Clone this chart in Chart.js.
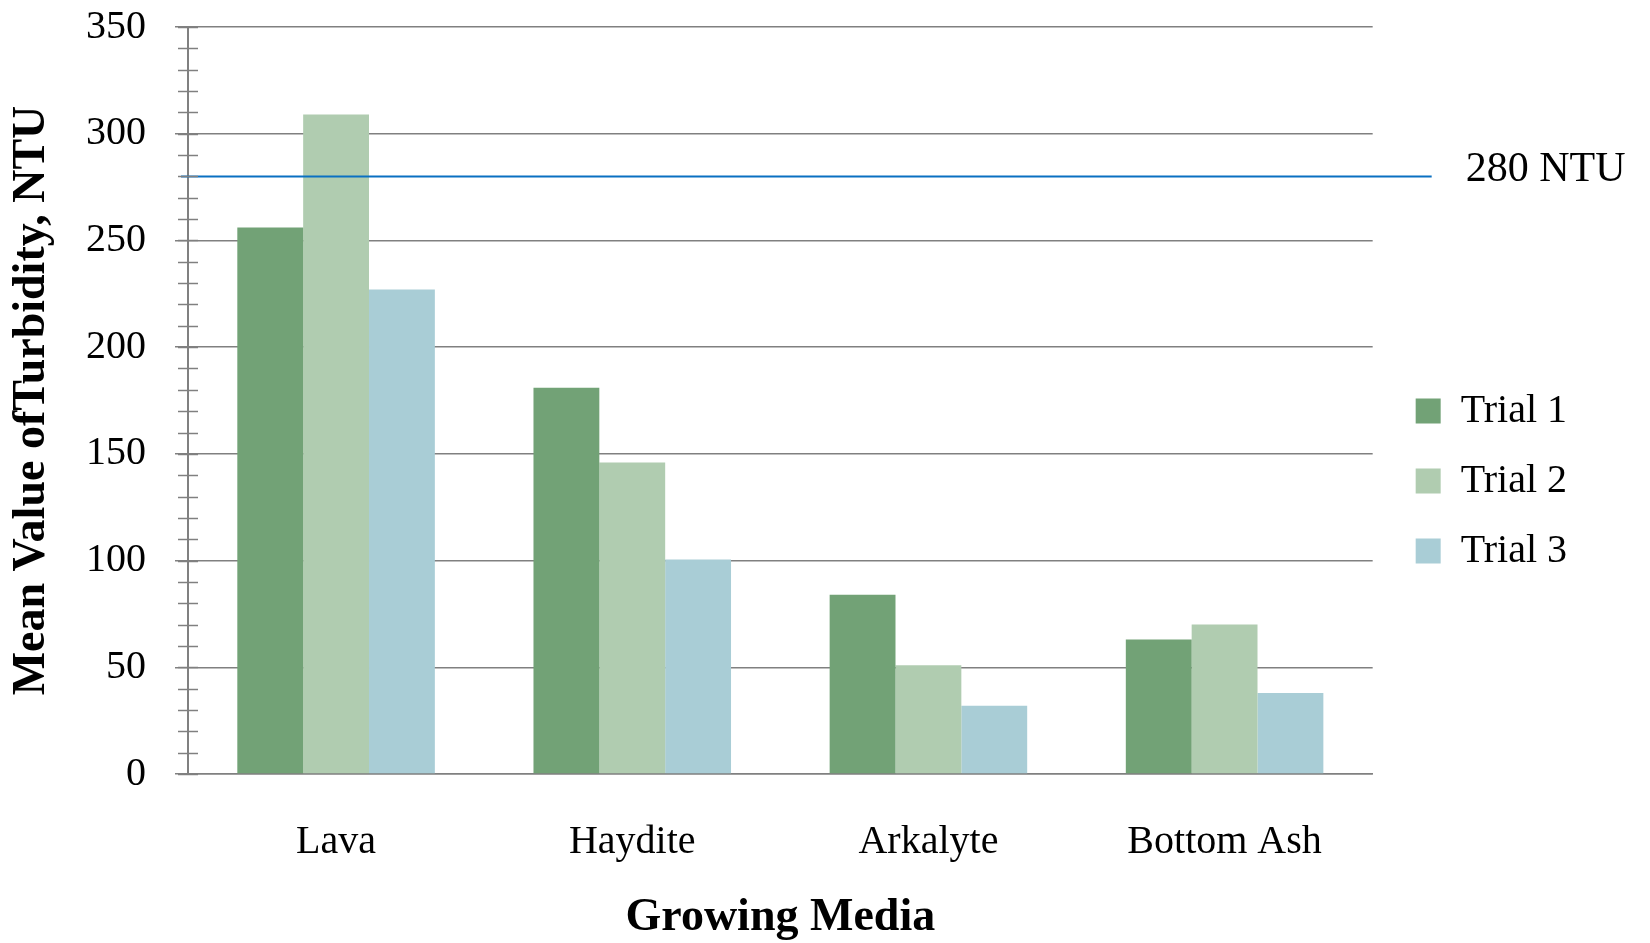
<!DOCTYPE html>
<html>
<head>
<meta charset="utf-8">
<script src="https://cdn.jsdelivr.net/npm/chart.js@4/dist/chart.umd.min.js"></script>
<style>
  html, body { margin: 0; padding: 0; background: #ffffff; }
  #wrap { width: 1650px; height: 943px; }
</style>
</head>
<body>
<div id="wrap"><canvas id="c" width="1650" height="943"></canvas></div>
<script>
// ---- data ----
const categories = ['Lava', 'Haydite', 'Arkalyte', 'Bottom Ash'];
const seriesNames = ['Trial 1', 'Trial 2', 'Trial 3'];
const trial1 = [256, 181, 84, 63];
const trial2 = [309, 146, 51, 70];
const trial3 = [227, 100.5, 32, 38];
const thresholdValues = [280];
const thresholdLabels = ['280 NTU'];
const yMin = 0, yMax = 350, yStep = 50, yMinorStep = 10;
const xTitle = 'Growing Media';
const yTitle = 'Mean Value ofTurbidity, NTU';

// ---- styles ----
const seriesColors = ['#72a276', '#b0ccb0', '#a9cdd6'];
const gridColor = '#808080';
const lineColor = '#0a70c2';
const serif = "'Liberation Serif', 'Times New Roman', serif";

const minorTicksPlugin = {
  id: 'minorTicks',
  afterDraw(chart) {
    const y = chart.scales.y;
    const x0 = chart.chartArea.left;
    const ctx = chart.ctx;
    ctx.save();
    ctx.strokeStyle = gridColor;
    ctx.lineWidth = 1.5;
    for (let v = yMin; v <= yMax + 1e-9; v += yMinorStep) {
      const py = Math.round(y.getPixelForValue(v)) + 0.5;
      ctx.beginPath();
      ctx.moveTo(x0 - 10, py);
      ctx.lineTo(x0 + 10, py);
      ctx.stroke();
    }
    ctx.restore();
  }
};

const thresholdPlugin = {
  id: 'threshold',
  afterDatasetsDraw(chart) {
    const y = chart.scales.y;
    const area = chart.chartArea;
    const ctx = chart.ctx;
    ctx.save();
    thresholdValues.forEach((v, i) => {
      const py = y.getPixelForValue(v);
      ctx.strokeStyle = lineColor;
      ctx.lineWidth = 2;
      ctx.beginPath();
      ctx.moveTo(area.left - 7, py);
      ctx.lineTo(area.right + 59, py);
      ctx.stroke();
      ctx.fillStyle = '#000000';
      ctx.font = '42px ' + serif;
      ctx.textAlign = 'left';
      ctx.textBaseline = 'middle';
      ctx.fillText(thresholdLabels[i], area.right + 93, py - 6);
    });
    ctx.restore();
  }
};

new Chart(document.getElementById('c'), {
  type: 'bar',
  data: {
    labels: categories,
    datasets: [
      { label: seriesNames[0], data: trial1, backgroundColor: seriesColors[0] },
      { label: seriesNames[1], data: trial2, backgroundColor: seriesColors[1] },
      { label: seriesNames[2], data: trial3, backgroundColor: seriesColors[2] }
    ]
  },
  options: {
    responsive: false,
    devicePixelRatio: 1,
    animation: false,
    layout: { padding: { top: 27, right: 73, bottom: 8, left: 0 } },
    datasets: { bar: { barPercentage: 1.0, categoryPercentage: 0.667, borderWidth: 0 } },
    plugins: {
      tooltip: { enabled: false },
      legend: {
        position: 'right',
        align: 'center',
        labels: {
          boxWidth: 25,
          boxHeight: 25,
          padding: 30,
          color: '#000000',
          font: { family: serif, size: 40 }
        }
      }
    },
    scales: {
      x: {
        grid: { display: false, drawTicks: false },
        border: { display: true, color: gridColor, width: 1.5 },
        ticks: { color: '#000000', padding: 44, font: { family: serif, size: 40 } },
        title: {
          display: true, text: xTitle, color: '#000000',
          font: { family: serif, size: 46, weight: 'bold' },
          padding: { top: 0, bottom: -11 }
        },
        afterFit(scale) { scale.height = 161; }
      },
      y: {
        min: yMin, max: yMax,
        grid: { color: gridColor, lineWidth: 1.5, tickLength: 13, tickColor: gridColor, tickWidth: 1.5 },
        border: { display: true, color: gridColor, width: 2 },
        ticks: { stepSize: yStep, color: '#000000', padding: 29, font: { family: serif, size: 40 } },
        title: {
          display: true, text: yTitle, color: '#000000',
          font: { family: serif, size: 46, weight: 'bold' },
          padding: { top: 5, bottom: 0 }
        },
        afterFit(scale) {
          scale.width = 188;
          scale.paddingTop = 0;
          scale.paddingBottom = 0;
        }
      },
      yR: {
        position: 'right',
        display: true,
        grid: { display: false, drawTicks: false },
        border: { display: false },
        ticks: { display: false },
        afterFit(scale) { scale.width = 13; }
      }
    }
  },
  plugins: [minorTicksPlugin, thresholdPlugin]
});
</script>
</body>
</html>
